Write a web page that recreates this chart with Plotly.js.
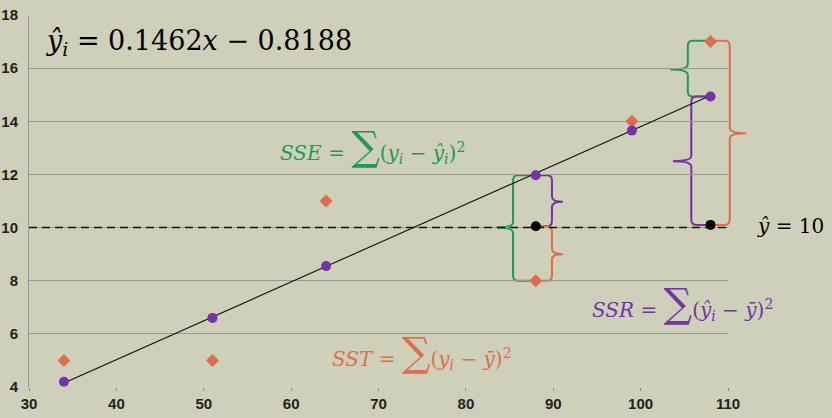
<!DOCTYPE html>
<html>
<head>
<meta charset="utf-8">
<script src="https://cdn.plot.ly/plotly-3.0.1.min.js"></script>
<style>html,body{margin:0;padding:0;background:#cfd0b9;}</style>
</head>
<body>
<div id="chart" style="width:832px;height:418px;"></div>
<script>
// Data
const xVals = [34, 51, 64, 88, 99, 108];
const yObserved = [5, 5, 11, 8, 14, 17];
const yFitted = [4.2, 6.6, 8.55, 11.97, 13.65, 14.93];
const meanX = [88, 108];
const meanY = [10.05, 10.1];
const slope = 0.1462;
const intercept = -0.8188;
const yBar = 10;
const trendX = [34, 108];
const trendY = trendX.map(x => slope * x + intercept);
const xTicks = [30, 40, 50, 60, 70, 80, 90, 100, 110];
const yTicks = [4, 6, 8, 10, 12, 14, 16, 18];

const GREEN = '#1f9a55';
const ORANGE = '#dc6e4c';
const PURPLE = '#7234a6';

const traces = [
  {x: [30, 110], y: [yBar, yBar], mode: 'lines', line: {color: '#111', width: 1.5, dash: '8px,5px'}, hoverinfo: 'skip'},
  {x: trendX, y: trendY, mode: 'lines', line: {color: '#111', width: 1.1}, hoverinfo: 'skip'},
  {x: xVals, y: yObserved, mode: 'markers', marker: {symbol: 'diamond', size: 10, color: ORANGE}},
  {x: xVals, y: yFitted, mode: 'markers', marker: {symbol: 'circle', size: 10, color: PURPLE}},
  {x: meanX, y: meanY, mode: 'markers', marker: {symbol: 'circle', size: 10, color: '#000'}}
];

// brace helper: paper x, data y
const px = x => (x - 30) / 80;
function brace(xEnd, xv, yTop, yBot, xt, ym, color) {
  const dir = Math.sign(xEnd - xv);
  const rx = 0.007 * dir, ry = 0.2;
  const pv = px(xv);
  const f = (a, y) => a.toFixed(5) + ',' + y.toFixed(4);
  const P = (x, y) => f(px(x), y);
  const path = 'M' + P(xEnd, yTop) +
    ' L' + f(pv + rx, yTop) +
    ' Q' + f(pv, yTop) + ' ' + f(pv, yTop - ry) +
    ' L' + f(pv, ym + ry) +
    ' Q' + f(pv, ym) + ' ' + P(xt, ym) +
    ' Q' + f(pv, ym) + ' ' + f(pv, ym - ry) +
    ' L' + f(pv, yBot + ry) +
    ' Q' + f(pv, yBot) + ' ' + f(pv + rx, yBot) +
    ' L' + P(xEnd, yBot);
  return {type: 'path', xref: 'paper', yref: 'y', path: path, line: {color: color, width: 2}, layer: 'below'};
}

const shapes = [
  brace(88, 85.4, 11.97, 8.0, 83.5, 10.0, GREEN),
  brace(88, 89.85, 11.97, 10.05, 91.1, 10.97, PURPLE),
  brace(88, 89.85, 10.05, 8.0, 91.1, 9.0, ORANGE),
  brace(108, 105.4, 17.03, 14.93, 103.4, 15.95, GREEN),
  brace(108, 105.8, 14.93, 10.1, 103.7, 12.5, PURPLE),
  brace(108, 110.2, 17.03, 10.1, 112.1, 13.55, ORANGE)
];

const SERIF = 'DejaVu Serif, Liberation Serif, serif';
const sig = s => '<span style="font-size:' + s + 'px">∑</span>';
const annotations = [
  {xref: 'paper', yref: 'paper', x: 0.022, y: 0.927, xanchor: 'left', yanchor: 'middle', showarrow: false,
   text: '<i>y\u0302</i><sub><i>i</i></sub> = 0.1462<i>x</i> − 0.8188', font: {family: SERIF, size: 27, color: '#000'}},
  {xref: 'paper', yref: 'paper', x: 0.356, y: 0.648, xanchor: 'left', yanchor: 'middle', showarrow: false,
   text: '<i>SSE</i> = ' + sig(40) + '(<i>y</i><sub><i>i</i></sub> − <i>y\u0302</i><sub><i>i</i></sub>)<sup>2</sup>', font: {family: SERIF, size: 20, color: GREEN}},
  {xref: 'paper', yref: 'paper', x: 0.43, y: 0.095, xanchor: 'left', yanchor: 'middle', showarrow: false,
   text: '<i>SST</i> = ' + sig(40) + '(<i>y</i><sub><i>i</i></sub> − <i>y\u0304</i>)<sup>2</sup>', font: {family: SERIF, size: 20, color: ORANGE}},
  {xref: 'paper', yref: 'paper', x: 0.803, y: 0.225, xanchor: 'left', yanchor: 'middle', showarrow: false,
   text: '<i>SSR</i> = ' + sig(40) + '(<i>y\u0302</i><sub><i>i</i></sub> − <i>y\u0304</i>)<sup>2</sup>', font: {family: SERIF, size: 20, color: PURPLE}},
  {xref: 'paper', yref: 'paper', x: 1.039, y: 0.433, xanchor: 'left', yanchor: 'middle', showarrow: false,
   text: '<i>y\u0302</i> = 10', font: {family: SERIF, size: 20, color: '#000'}}
];

const tickFont = {family: 'Liberation Sans, Arial, sans-serif', size: 15, color: '#222'};
const layout = {
  width: 832, height: 418,
  paper_bgcolor: '#cfd0b9', plot_bgcolor: '#cfd0b9',
  margin: {l: 29, r: 104, t: 15, b: 31, autoexpand: false},
  showlegend: false,
  font: {family: 'Liberation Sans, Arial, sans-serif', size: 15, color: '#222'},
  xaxis: {range: [30, 110], tickvals: xTicks, ticktext: xTicks.map(v => '<b>' + v + '</b>'),
    showgrid: false, zeroline: false, automargin: false,
    showline: false, ticks: 'outside', ticklen: 3, tickcolor: '#888', tickfont: tickFont},
  yaxis: {range: [4, 18], tickvals: yTicks, ticktext: yTicks.map(v => '<b>' + v + '</b>'),
    showgrid: true, gridcolor: '#999', gridwidth: 1, automargin: false,
    zeroline: false, showline: true, linecolor: '#999', linewidth: 1, ticks: '', ticklabelstandoff: 7, tickfont: tickFont},
  shapes: shapes,
  annotations: annotations
};

Plotly.newPlot('chart', traces, layout, {displayModeBar: false, staticPlot: true});
</script>
</body>
</html>
